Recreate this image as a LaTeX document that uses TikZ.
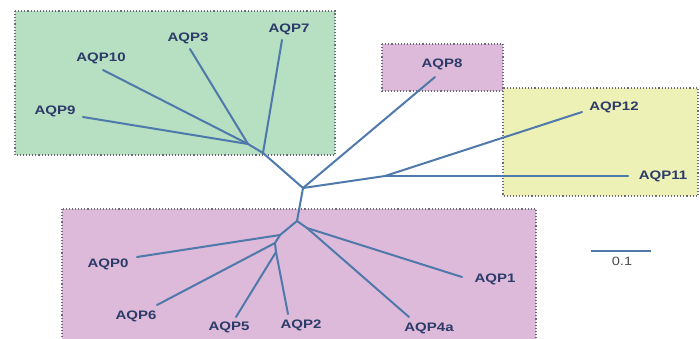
\documentclass[tikz,border=0pt]{standalone}
\usepackage{fontspec}
\setmainfont{Liberation Sans}
\usetikzlibrary{calc}
\definecolor{grpgreen}{HTML}{B7DFC2}
\definecolor{grppink}{HTML}{DDBAD9}
\definecolor{grpyellow}{HTML}{EEF1B6}
\definecolor{boxedge}{HTML}{6A6A7A}
\definecolor{branch}{HTML}{4E79AA}
\definecolor{labtext}{HTML}{2C3B68}
\newcommand{\widetext}[1]{\scalebox{1.22}[1]{#1}}
\tikzset{
  group/.style={draw=boxedge, line width=1.1pt, dotted},
  edge/.style={draw=branch, line width=2pt, line cap=round},
  leaflab/.style={font=\fontsize{12.3}{12.3}\selectfont\bfseries, text=labtext, inner sep=0pt},
  scalelab/.style={font=\fontsize{12}{12}\selectfont, text=black!70, inner sep=0pt}
}
\begin{document}
\begin{tikzpicture}[x=1pt, y=-1pt]
\useasboundingbox (0,0) rectangle (700,338);

% clade boxes
\fill[grpgreen] (15,11) rectangle (335,155);
\draw[group] (15,11) rectangle (335,155);
\fill[grppink] (382,44) rectangle (503,91);
\draw[group] (382,44) rectangle (503,91);
\fill[grpyellow] (503,88) rectangle (698,196);
\draw[group] (503,88) rectangle (698,196);
\fill[grppink] (62,209) rectangle (536,345);
\draw[group] (62,209) rectangle (536,345);

% internal nodes
\coordinate (root) at (303,188);
\coordinate (nG1) at (263,153);
\coordinate (nG2) at (248,144);
\coordinate (nY)  at (385,176);
\coordinate (nA)  at (297,221);
\coordinate (nB)  at (307,228);
\coordinate (nC)  at (280,235);
\coordinate (nD)  at (275,243);
\coordinate (nE)  at (276,252);

% leaf tips
\coordinate (t7)  at (282,40);
\coordinate (t3)  at (190,49);
\coordinate (t10) at (103,70);
\coordinate (t9)  at (83,117);
\coordinate (t8)  at (435,77);
\coordinate (t12) at (582,112);
\coordinate (t11) at (628,176);
\coordinate (t0)  at (137,257);
\coordinate (t6)  at (157,305);
\coordinate (t5)  at (236,317);
\coordinate (t2)  at (288,314);
\coordinate (t1)  at (462,277);
\coordinate (t4a) at (409,317);

% branches
\draw[edge] (root) -- (nG1);
\draw[edge] (nG1) -- (t7);
\draw[edge] (nG1) -- (nG2);
\draw[edge] (nG2) -- (t3);
\draw[edge] (nG2) -- (t10);
\draw[edge] (nG2) -- (t9);
\draw[edge] (root) -- (t8);
\draw[edge] (root) -- (nY);
\draw[edge] (nY) -- (t12);
\draw[edge] (nY) -- (t11);
\draw[edge] (root) -- (nA);
\draw[edge] (nA) -- (nB);
\draw[edge] (nB) -- (t1);
\draw[edge] (nB) -- (t4a);
\draw[edge] (nA) -- (nC);
\draw[edge] (nC) -- (t0);
\draw[edge] (nC) -- (nD);
\draw[edge] (nD) -- (t6);
\draw[edge] (nD) -- (nE);
\draw[edge] (nE) -- (t5);
\draw[edge] (nE) -- (t2);

% leaf labels
\node[leaflab] (l7)  at (289,29)  {\widetext{AQP7}};
\node[leaflab] (l3)  at (188,38)  {\widetext{AQP3}};
\node[leaflab] (l10) at (101,58)  {\widetext{AQP10}};
\node[leaflab] (l9)  at (55,111)  {\widetext{AQP9}};
\node[leaflab] (l8)  at (442,64)  {\widetext{AQP8}};
\node[leaflab] (l12) at (614,107) {\widetext{AQP12}};
\node[leaflab] (l11) at (663,176) {\widetext{AQP11}};
\node[leaflab] (l0)  at (108,264) {\widetext{AQP0}};
\node[leaflab] (l6)  at (136,316) {\widetext{AQP6}};
\node[leaflab] (l5)  at (229,327) {\widetext{AQP5}};
\node[leaflab] (l2)  at (301,325) {\widetext{AQP2}};
\node[leaflab] (l1)  at (495,279) {\widetext{AQP1}};
\node[leaflab] (l4a) at (429,328) {\widetext{AQP4a}};

% scale bar
\coordinate (sbL) at (591,251);
\coordinate (sbR) at (651,251);
\draw[edge, line cap=butt] (sbL) -- (sbR);
\node[scalelab] (sbl) at (622,261) {\widetext{0.1}};
\end{tikzpicture}
\end{document}
